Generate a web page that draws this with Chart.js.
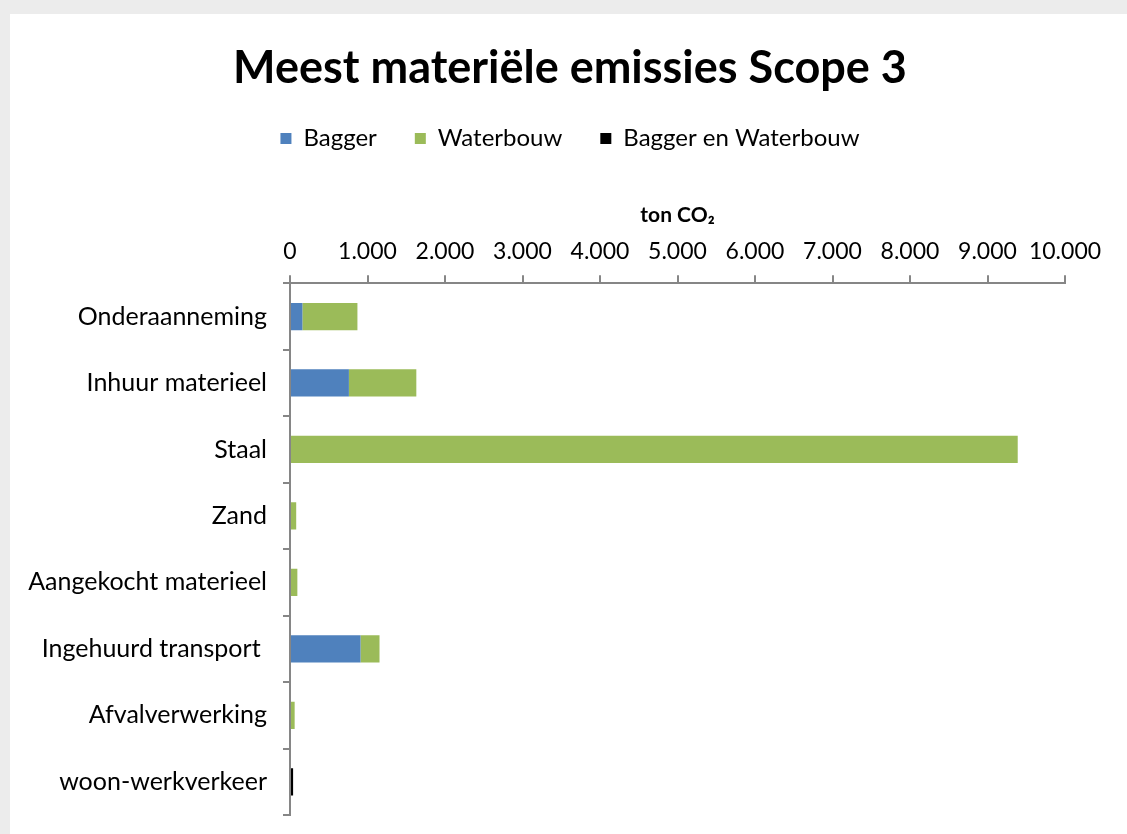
<!DOCTYPE html>
<html>
<head>
<meta charset="utf-8">
<script src="https://cdn.jsdelivr.net/npm/chart.js@4"></script>
<style>
  body { margin: 0; background: #ececec; }
  .chart-wrapper {
    position: absolute;
    left: 10px;
    top: 14px;
    width: 1117px;
    height: 820px;
    background: #ffffff;
  }
</style>
</head>
<body>
<div class="chart-wrapper">
  <canvas id="chart"></canvas>
</div>
<script>
const categories = [
  'Onderaanneming',
  'Inhuur materieel',
  'Staal',
  'Zand',
  'Aangekocht materieel',
  'Ingehuurd transport ',
  'Afvalverwerking',
  'woon-werkverkeer'
];
const bagger = [160, 760, 0, 0, 0, 910, 0, 0];
const waterbouw = [710, 870, 9390, 80, 95, 245, 60, 0];
const baggerEnWaterbouw = [0, 0, 0, 0, 0, 0, 0, 40];

const FONT = 'Lato, "Open Sans", sans-serif';
const AXIS_GRAY = '#868686';

// Dutch thousands separator
const formatNl = v => String(v).replace(/\B(?=(\d{3})+(?!\d))/g, '.');

const ctx = document.getElementById('chart').getContext('2d');

new Chart(ctx, {
  type: 'bar',
  data: {
    labels: categories,
    datasets: [
      { label: 'Bagger', data: bagger, backgroundColor: '#4F81BD' },
      { label: 'Waterbouw', data: waterbouw, backgroundColor: '#9BBB59' },
      { label: 'Bagger en Waterbouw', data: baggerEnWaterbouw, backgroundColor: '#000000' }
    ]
  },
  options: {
    indexAxis: 'y',
    responsive: true,
    maintainAspectRatio: false,
    animation: false,
    datasets: {
      bar: { barPercentage: 0.41, categoryPercentage: 1 }
    },
    layout: {
      padding: { left: 3, right: 0, top: 0, bottom: 19 }
    },
    plugins: {
      title: {
        display: true,
        text: 'Meest materiële emissies Scope 3',
        color: '#000',
        font: { family: FONT, size: 45, weight: 'bold', lineHeight: 0.9 },
        padding: { top: 34, bottom: 0 }
      },
      legend: {
        display: true,
        position: 'top',
        labels: {
          color: '#000',
          font: { family: FONT, size: 24 },
          boxWidth: 11,
          boxHeight: 11,
          padding: 38
        }
      },
      tooltip: { enabled: false }
    },
    scales: {
      x: {
        position: 'top',
        stacked: true,
        min: 0,
        max: 10000,
        afterFit: scale => { scale.paddingRight = 62; },
        ticks: {
          stepSize: 1000,
          color: '#000',
          font: { family: FONT, size: 23 },
          padding: 10,
          maxRotation: 0,
          callback: v => formatNl(v)
        },
        grid: {
          drawOnChartArea: false,
          color: AXIS_GRAY,
          lineWidth: 2,
          tickLength: 8
        },
        border: { color: AXIS_GRAY, width: 2 },
        title: {
          display: true,
          text: 'ton CO₂',
          color: '#000',
          font: { family: FONT, size: 21, weight: 'bold' },
          padding: { top: 42, bottom: 0 }
        }
      },
      y: {
        stacked: true,
        afterFit: scale => {
          scale.width = 277;
          scale.paddingTop = 0;
          scale.paddingBottom = 0;
        },
        ticks: {
          color: '#000',
          font: { family: FONT, size: 25 },
          padding: 16
        },
        grid: {
          drawOnChartArea: false,
          offset: true,
          color: AXIS_GRAY,
          lineWidth: 2,
          tickLength: 7
        },
        border: { color: AXIS_GRAY, width: 2 }
      }
    }
  }
});
</script>
</body>
</html>
